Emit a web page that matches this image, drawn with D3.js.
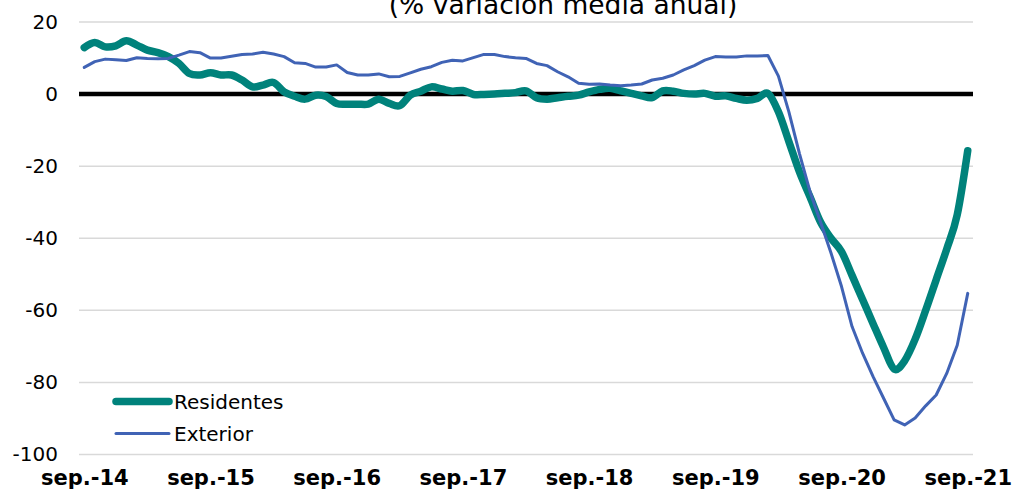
<!DOCTYPE html>
<html>
<head>
<meta charset="utf-8">
<script src="https://cdn.jsdelivr.net/npm/d3@7"></script>
<style>
  body { margin: 0; background: #fff; }
  text { font-family: "DejaVu Sans", Verdana, sans-serif; fill: #000; }
</style>
</head>
<body>
<div id="chart"></div>
<script>
var svgWidth = 1015;
var svgHeight = 495;

// monthly, sep.-14 .. sep.-21
var months = d3.timeMonth.range(new Date(2014, 8, 1), new Date(2021, 9, 1));

var tickLabels = ["sep.-14", "sep.-15", "sep.-16", "sep.-17", "sep.-18", "sep.-19", "sep.-20", "sep.-21"];
var yTicks = [20, 0, -20, -40, -60, -80, -100];

var residentes = [
  12.9, 14.3, 13.1, 13.4, 14.8, 13.6, 12.2, 11.5, 10.4, 8.5, 5.7, 5.3,
  5.9, 5.3, 5.3, 3.9, 2.0, 2.5, 3.2, 0.6, -0.6, -1.4, -0.3, -0.7,
  -2.6, -2.8, -2.8, -2.8, -1.4, -2.6, -3.2, -0.3, 0.8, 2.0, 1.4, 0.8,
  1.0, -0.1, -0.1, 0.0, 0.2, 0.4, 0.9, -1.0, -1.4, -1.0, -0.6, -0.3,
  0.6, 1.3, 1.6, 0.9, 0.2, -0.5, -1.0, 0.9, 0.8, 0.2, 0.0, 0.2,
  -0.6, -0.5, -1.2, -1.7, -1.2, 0.2, -4.9, -13.2, -21.6, -28.5, -35.5, -40.0,
  -43.7, -50.3, -57.0, -63.7, -70.3, -76.3, -74.0, -68.0, -60.0, -51.5, -43.0, -33.5,
  -15.7
];

var exterior = [
  7.4, 9.0, 9.7, 9.5, 9.3, 10.1, 9.9, 9.8, 9.9, 10.8, 11.8, 11.5,
  10.0, 10.0, 10.5, 11.0, 11.1, 11.6, 11.1, 10.4, 8.7, 8.5, 7.5, 7.5,
  8.1, 6.0, 5.3, 5.3, 5.6, 4.8, 4.9, 5.9, 6.9, 7.6, 8.8, 9.4,
  9.2, 10.1, 11.0, 11.0, 10.4, 10.1, 9.9, 8.5, 7.9, 6.2, 4.8, 3.0,
  2.7, 2.8, 2.5, 2.3, 2.5, 2.8, 3.9, 4.4, 5.3, 6.7, 7.9, 9.4,
  10.4, 10.3, 10.3, 10.6, 10.6, 10.7, 5.0, -5.0, -16.5, -27.0, -35.5, -44.1,
  -53.4, -64.5, -71.9, -78.4, -84.4, -90.4, -91.8, -89.9, -86.5, -83.5, -77.5, -69.7,
  -55.3
];

var colorRes = "#00827B";
var colorExt = "#4063B5";

var svg = d3.select("#chart")
  .append("svg")
  .attr("width", svgWidth)
  .attr("height", svgHeight);

svg.append("rect")
  .attr("width", svgWidth)
  .attr("height", svgHeight)
  .attr("fill", "#fff");

var xScale = d3.scalePoint()
  .domain(d3.range(months.length))
  .range([79, 973])
  .padding(0.5);

var yScale = d3.scaleLinear()
  .domain([-100, 20])
  .range([454.5, 22]);

// title (partly off the top, as in the source)
svg.append("text")
  .attr("x", 563)
  .attr("y", 14)
  .attr("text-anchor", "middle")
  .attr("font-size", 26.5)
  .text("(% variación media anual)");

// gridlines
svg.append("g")
  .selectAll("line")
  .data(yTicks.filter(d => d !== 0))
  .enter()
  .append("line")
  .attr("x1", 79)
  .attr("x2", 973)
  .attr("y1", d => yScale(d))
  .attr("y2", d => yScale(d))
  .attr("stroke", "#d9d9d9")
  .attr("stroke-width", 1.5);

// y axis labels
var leftAxis = d3.axisLeft(yScale)
  .tickValues(yTicks)
  .tickFormat(d => String(d))
  .tickSize(0)
  .tickPadding(21);

var yAxisG = svg.append("g")
  .attr("transform", "translate(79,0)")
  .call(leftAxis);
yAxisG.select(".domain").remove();
yAxisG.selectAll("text")
  .attr("font-size", 20)
  .attr("font-family", "DejaVu Sans, Verdana, sans-serif")
  .attr("fill", "#000");

// zero line
svg.append("line")
  .attr("x1", 79)
  .attr("x2", 973)
  .attr("y1", yScale(0))
  .attr("y2", yScale(0))
  .attr("stroke", "#000")
  .attr("stroke-width", 4.5);

// x labels, one per september
var bottomAxis = d3.axisBottom(xScale)
  .tickValues(d3.range(0, months.length, 12))
  .tickFormat((d, i) => tickLabels[i])
  .tickSize(0)
  .tickPadding(0);

var xAxisG = svg.append("g")
  .attr("transform", "translate(0,470)")
  .call(bottomAxis);
xAxisG.select(".domain").remove();
xAxisG.selectAll("text")
  .attr("font-size", 21)
  .attr("font-weight", "bold")
  .attr("font-family", "DejaVu Sans, Verdana, sans-serif")
  .attr("fill", "#000");

// lines
var lineSmooth = d3.line()
  .x((d, i) => xScale(i))
  .y(d => yScale(d))
  .curve(d3.curveCardinal.tension(0));

var lineStraight = d3.line()
  .x((d, i) => xScale(i))
  .y(d => yScale(d));

svg.append("path")
  .datum(residentes)
  .attr("d", lineSmooth)
  .attr("fill", "none")
  .attr("stroke", colorRes)
  .attr("stroke-width", 7.5)
  .attr("stroke-linejoin", "round")
  .attr("stroke-linecap", "round");

svg.append("path")
  .datum(exterior)
  .attr("d", lineStraight)
  .attr("fill", "none")
  .attr("stroke", colorExt)
  .attr("stroke-width", 3)
  .attr("stroke-linejoin", "round")
  .attr("stroke-linecap", "round");

// legend
var legendItems = [
  { name: "Residentes", color: colorRes, width: 7.5, y: 401.5 },
  { name: "Exterior", color: colorExt, width: 3, y: 433.5 }
];

var legend = svg.append("g");
legend.selectAll("line")
  .data(legendItems)
  .enter()
  .append("line")
  .attr("x1", 116)
  .attr("x2", 169)
  .attr("y1", d => d.y)
  .attr("y2", d => d.y)
  .attr("stroke", d => d.color)
  .attr("stroke-width", d => d.width)
  .attr("stroke-linecap", "round");

legend.selectAll("text")
  .data(legendItems)
  .enter()
  .append("text")
  .attr("x", 174)
  .attr("y", d => d.y)
  .attr("dy", "0.35em")
  .attr("font-size", 20)
  .text(d => d.name);
</script>
</body>
</html>
